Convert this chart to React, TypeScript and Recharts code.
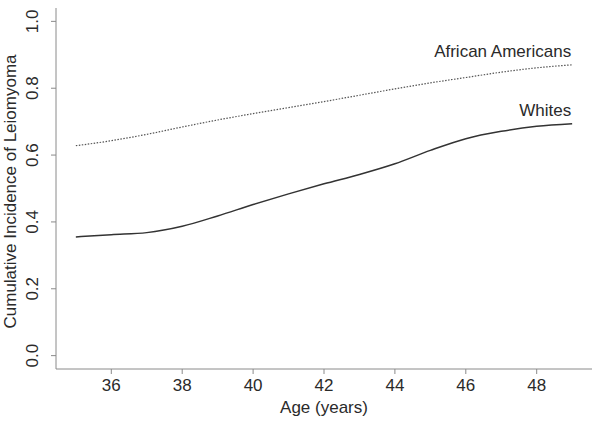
import React from "react";
import {
  LineChart,
  Line,
  XAxis,
  YAxis,
  LabelList,
} from "recharts";

const ages = [35, 36, 37, 38, 39, 40, 41, 42, 43, 44, 45, 46, 47, 48, 49];
const africanAmericans = [0.628, 0.643, 0.662, 0.684, 0.705, 0.724, 0.742, 0.76, 0.779, 0.798, 0.816, 0.832, 0.848, 0.861, 0.87];
const whites = [0.355, 0.362, 0.368, 0.387, 0.418, 0.452, 0.484, 0.514, 0.542, 0.574, 0.614, 0.649, 0.671, 0.686, 0.694];
const xTicks = [36, 38, 40, 42, 44, 46, 48];
const yTicks = [0, 0.2, 0.4, 0.6, 0.8, 1.0];
const seriesNames = ["African Americans", "Whites"];

const data = ages.map((a, i) => ({ age: a, aa: africanAmericans[i], wh: whites[i] }));

const FONT = "'Liberation Sans', Arial, Helvetica, sans-serif";
const FS = 17;
const TEXT = "#2a2a2a";
const AXIS = "#8a8a8a";

const YTick = (props: any) => {
  const { x, y, payload } = props;
  const cx = x - 16;
  return (
    <text
      x={cx}
      y={y}
      transform={`rotate(-90 ${cx} ${y})`}
      textAnchor="middle"
      dominantBaseline="central"
      fontSize={FS}
      fontFamily={FONT}
      fill={TEXT}
    >
      {Number(payload.value).toFixed(1)}
    </text>
  );
};

const XTick = (props: any) => {
  const { x, y, payload } = props;
  return (
    <text
      x={x}
      y={y + 9}
      textAnchor="middle"
      dominantBaseline="central"
      fontSize={FS}
      fontFamily={FONT}
      fill={TEXT}
    >
      {payload.value}
    </text>
  );
};

const endLabel = (name: string) => (props: any) => {
  const { x, y, index } = props;
  if (index !== ages.length - 1) return null;
  return (
    <text
      x={x - 1}
      y={y - 13}
      textAnchor="end"
      dominantBaseline="central"
      fontSize={FS}
      fontFamily={FONT}
      fill={TEXT}
    >
      {name}
    </text>
  );
};

export default function App() {
  return (
    <div style={{ position: "absolute", left: 0, top: 0, width: 601, height: 423, background: "#fff" }}>
      <LineChart
        width={601}
        height={423}
        data={data}
        margin={{ top: 8, right: 9, bottom: 0, left: 0 }}
      >
        <XAxis
          dataKey="age"
          type="number"
          domain={[34.44, 49.56]}
          ticks={xTicks}
          allowDataOverflow
          tick={<XTick />}
          tickSize={5}
          tickLine={{ stroke: AXIS }}
          axisLine={{ stroke: AXIS }}
          height={54}
          label={{
            value: "Age (years)",
            position: "insideBottom",
            offset: 10,
            fontSize: FS,
            fontFamily: FONT,
            fill: TEXT,
          }}
        />
        <XAxis
          xAxisId="top"
          dataKey="age"
          type="number"
          domain={[34.44, 49.56]}
          orientation="top"
          height={0}
          tick={false}
          tickLine={false}
          axisLine={{ stroke: AXIS }}
        />
        <YAxis
          type="number"
          domain={[-0.04, 1.04]}
          ticks={yTicks}
          allowDataOverflow
          width={56}
          tick={<YTick />}
          tickSize={5}
          tickLine={{ stroke: AXIS }}
          axisLine={{ stroke: AXIS }}
          label={{
            value: "Cumulative Incidence of Leiomyoma",
            angle: -90,
            position: "insideLeft",
            offset: 0,
            dx: 10,
            dy: 3,
            fontSize: FS,
            fontFamily: FONT,
            fill: TEXT,
            style: { textAnchor: "middle" },
          }}
        />
        <YAxis
          yAxisId="r"
          orientation="right"
          type="number"
          domain={[-0.04, 1.04]}
          ticks={yTicks}
          width={0}
          tick={false}
          tickSize={3}
          tickLine={{ stroke: AXIS }}
          axisLine={{ stroke: AXIS }}
        />
        <Line
          dataKey="aa"
          name={seriesNames[0]}
          type="monotone"
          stroke="#555"
          strokeWidth={1.2}
          strokeDasharray="1.5 1.5"
          dot={false}
          isAnimationActive={false}
        >
          <LabelList dataKey="aa" content={endLabel(seriesNames[0])} />
        </Line>
        <Line
          dataKey="wh"
          name={seriesNames[1]}
          type="monotone"
          stroke="#333"
          strokeWidth={1.5}
          dot={false}
          isAnimationActive={false}
        >
          <LabelList dataKey="wh" content={endLabel(seriesNames[1])} />
        </Line>
      </LineChart>
    </div>
  );
}
